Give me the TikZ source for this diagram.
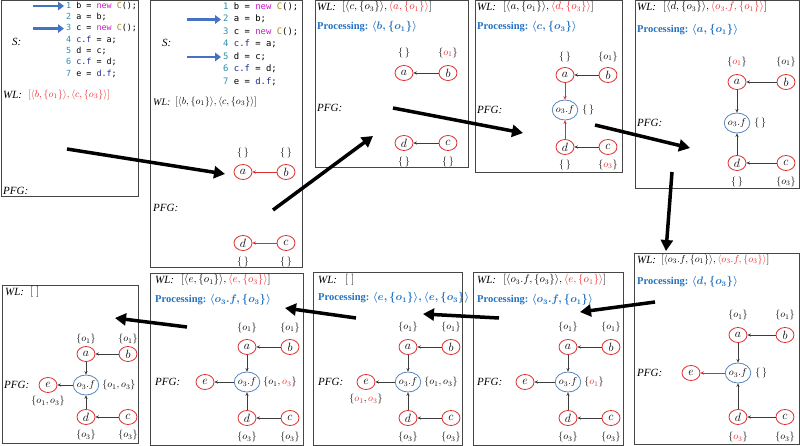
\documentclass[tikz,border=0pt]{standalone}
\usepackage{fontspec}
\setmainfont{Liberation Serif}
\newfontfamily\codefont{DejaVu Sans Mono}
\usetikzlibrary{shapes.geometric,arrows.meta,calc}
\definecolor{vred}{RGB}{220,45,45}
\definecolor{fblue}{RGB}{90,135,190}
\definecolor{pblue}{RGB}{35,115,195}
\definecolor{wred}{RGB}{235,45,45}
\definecolor{cnum}{RGB}{40,145,175}
\definecolor{ckw}{RGB}{200,30,200}
\definecolor{ccls}{RGB}{165,135,20}
\definecolor{cfld}{RGB}{30,40,150}
\definecolor{arrblue}{RGB}{68,114,196}
\definecolor{edgegray}{RGB}{60,60,60}
\definecolor{boxgray}{RGB}{70,70,70}
\newcommand{\rd}[1]{\textcolor{wred}{#1}}
\newcommand{\es}{\{\,\}}
\newcommand{\cnum}[1]{\textcolor{cnum}{#1}}
\newcommand{\cnew}{\textcolor{ckw}{new}}
\newcommand{\ccls}{\textcolor{ccls}{C}}
\newcommand{\cfl}[1]{\textcolor{cfld}{#1}}
\tikzset{
 panel/.style={draw=boxgray, line width=0.8pt},
 var/.style={ellipse, draw=vred, line width=0.8pt, minimum width=18pt, minimum height=15pt, inner sep=0pt, font=\fontsize{12}{12}\selectfont},
 fld/.style={ellipse, draw=fblue, line width=0.8pt, minimum width=25pt, minimum height=20pt, inner sep=0pt, font=\fontsize{10}{10}\selectfont},
 pe/.style={-{Stealth[length=3.5pt,width=3.2pt]}, draw=edgegray, line width=0.6pt},
 rpe/.style={pe, draw=vred},
 setl/.style={inner sep=0pt, font=\fontsize{10}{10}\selectfont},
 oset/.style={setl, anchor=west},
 lbl/.style={anchor=west, inner sep=0pt, font=\fontsize{11}{11}\selectfont\itshape},
 wll/.style={anchor=west, inner sep=0pt, font=\fontsize{10.5}{10.5}\selectfont},
 proc/.style={anchor=west, inner sep=0pt, text=pblue, font=\fontsize{10.5}{10.5}\selectfont\bfseries},
 bigarrow/.style={line width=3.5pt, -{Triangle[length=11pt,width=12pt]}},
 codearrow/.style={draw=arrblue, line width=2.8pt, -{Triangle[length=6pt,width=8.5pt]}},
 codeA/.style={anchor=west, inner sep=0pt, text height=6.5pt, text depth=2pt, font=\codefont\fontsize{8.4}{9}\selectfont},
 codeB/.style={anchor=west, inner sep=0pt, text height=6.5pt, text depth=2pt, font=\codefont\fontsize{8.9}{9}\selectfont},
}
\begin{document}
\begin{tikzpicture}[x=1pt,y=-1pt]
\useasboundingbox (0,0) rectangle (800,446);
\fill[white] (0,0) rectangle (800,446);
% ---------- panel boxes
\draw[panel] (1,0.5) rectangle (138,196);
\draw[panel] (150,0.5) rectangle (302,267);
\draw[panel] (315,0.5) rectangle (468,167);
\draw[panel] (475,0.5) rectangle (622,172);
\draw[panel] (635,0.5) rectangle (799,188);
\draw[panel] (634,253) rectangle (799,444);
\draw[panel] (473,272) rectangle (623,445);
\draw[panel] (313,272) rectangle (462,445);
\draw[panel] (150,273) rectangle (303,445);
\draw[panel] (2,285) rectangle (138,443);

% ---------- panel 1
\node[codeA] (l11) at (66,6) {\cnum{1} b = \cnew{} \ccls();};
\node[codeA] (l12) at (66,17.3) {\cnum{2} a = b;};
\node[codeA] (l13) at (66,28.6) {\cnum{3} c = \cnew{} \ccls();};
\node[codeA] (l14) at (66,39.9) {\cnum{4} \cfl{c.f} = a;};
\node[codeA] (l15) at (66,51.2) {\cnum{5} d = c;};
\node[codeA] (l16) at (66,62.5) {\cnum{6} \cfl{c.f} = d;};
\node[codeA] (l17) at (66,73.8) {\cnum{7} e = \cfl{d.f};};
\coordinate (ca11) at (33,6);
\coordinate (ca13) at (33,28.6);
\draw[codearrow] (ca11) -- ([xshift=-2pt]l11.west);
\draw[codearrow] (ca13) -- ([xshift=-2pt]l13.west);
\node[lbl] (s1) at (12,42) {S:};
\node[lbl] (wl1) at (3,95) {WL:};
\node[wll,text=wred,font=\fontsize{10}{10}\selectfont] (wlv1) at (28,95) {$[\langle b,\{o_1\}\rangle,\langle c,\{o_3\}\rangle]$};
\node[lbl] (pfg1) at (3,191) {PFG:};

% ---------- panel 2
\node[codeB] (l21) at (223,7) {\cnum{1} b = \cnew{} \ccls();};
\node[codeB] (l22) at (223,19.5) {\cnum{2} a = b;};
\node[codeB] (l23) at (223,32) {\cnum{3} c = \cnew{} \ccls();};
\node[codeB] (l24) at (223,44.5) {\cnum{4} \cfl{c.f} = a;};
\node[codeB] (l25) at (223,57) {\cnum{5} d = c;};
\node[codeB] (l26) at (223,69.5) {\cnum{6} \cfl{c.f} = d;};
\node[codeB] (l27) at (223,82) {\cnum{7} e = \cfl{d.f};};
\coordinate (ca22) at (187,19.5);
\coordinate (ca25) at (187,57);
\draw[codearrow] (ca22) -- ([xshift=-2pt]l22.west);
\draw[codearrow] (ca25) -- ([xshift=-2pt]l25.west);
\node[lbl] (s2) at (162,43) {S:};
\node[lbl,font=\fontsize{10}{10}\selectfont\itshape] (wl2) at (153,102) {WL:};
\node[wll,font=\fontsize{10}{10}\selectfont] (wlv2) at (175,102) {$[\langle b,\{o_1\}\rangle,\langle c,\{o_3\}\rangle]$};
\node[lbl] (pfg2) at (153,208) {PFG:};
\node[var] (a2) at (243,172) {$a$};
\node[var] (b2) at (286,172) {$b$};
\node[var] (d2) at (243,243) {$d$};
\node[var] (c2) at (286,243) {$c$};
\node[setl] (sa2) at (243,153) {$\es$};
\node[setl] (sb2) at (286,153) {$\es$};
\node[setl] (sd2) at (243,262) {$\es$};
\node[setl] (sc2) at (286,262) {$\es$};
\draw[rpe] (b2) -- (a2);
\draw[rpe] (c2) -- (d2);

% ---------- panel 3
\node[lbl] (wl3) at (317,7) {WL:};
\node[wll] (wlv3) at (342,7) {$[\langle c,\{o_3\}\rangle,\rd{\langle a,\{o_1\}\rangle}]$};
\node[proc] (pr3) at (317,27) {Processing: {\boldmath$\langle b,\{o_1\}\rangle$}};
\node[lbl] (pfg3) at (317,108) {PFG:};
\node[var] (a3) at (404,73) {$a$};
\node[var] (b3) at (448,73) {$b$};
\node[var] (d3) at (404,143) {$d$};
\node[var] (c3) at (448,143) {$c$};
\node[setl] (sa3) at (404,53) {$\es$};
\node[setl] (sb3) at (448,53) {$\{\rd{o_1}\}$};
\node[setl] (sd3) at (404,162) {$\es$};
\node[setl] (sc3) at (448,162) {$\es$};
\draw[pe] (b3) -- (a3);
\draw[pe] (c3) -- (d3);

% ---------- panel 4
\node[lbl] (wl4) at (477,7) {WL:};
\node[wll] (wlv4) at (503,7) {$[\langle a,\{o_1\}\rangle,\rd{\langle d,\{o_3\}\rangle}]$};
\node[proc] (pr4) at (477,27) {Processing: {\boldmath$\langle c,\{o_3\}\rangle$}};
\node[lbl] (pfg4) at (477,110) {PFG:};
\node[var] (a4) at (565,75) {$a$};
\node[var] (b4) at (608,75) {$b$};
\node[fld] (o4) at (565,110) {$o_3.f$};
\node[var] (d4) at (565,147) {$d$};
\node[var] (c4) at (608,147) {$c$};
\node[setl] (sa4) at (565,57) {$\es$};
\node[setl] (sb4) at (608,57) {$\{o_1\}$};
\node[oset] (so4) at ([xshift=4pt]o4.east) {$\es$};
\node[setl] (sd4) at (565,165) {$\es$};
\node[setl] (sc4) at (608,165) {$\{\rd{o_3}\}$};
\draw[pe] (b4) -- (a4);
\draw[pe] (c4) -- (d4);
\draw[rpe] (a4) -- (o4);
\draw[rpe] (d4) -- (o4);

% ---------- panel 5
\node[lbl] (wl5) at (637,7) {WL:};
\node[wll] (wlv5) at (663,7) {$[\langle d,\{o_3\}\rangle,\rd{\langle o_3.f,\{o_1\}\rangle}]$};
\node[proc] (pr5) at (637,30) {Processing: {\boldmath$\langle a,\{o_1\}\rangle$}};
\node[lbl] (pfg5) at (637,123) {PFG:};
\node[var] (a5) at (737,82) {$a$};
\node[var] (b5) at (786,82) {$b$};
\node[fld] (o5) at (737,123) {$o_3.f$};
\node[var] (d5) at (737,163) {$d$};
\node[var] (c5) at (786,163) {$c$};
\node[setl] (sa5) at (737,62) {$\{\rd{o_1}\}$};
\node[setl] (sb5) at (786,62) {$\{o_1\}$};
\node[oset] (so5) at ([xshift=4pt]o5.east) {$\es$};
\node[setl] (sd5) at (737,182) {$\es$};
\node[setl] (sc5) at (786,182) {$\{o_3\}$};
\draw[pe] (b5) -- (a5);
\draw[pe] (c5) -- (d5);
\draw[pe] (a5) -- (o5);
\draw[pe] (d5) -- (o5);

% ---------- panel 6
\node[lbl] (wl6) at (637,260) {WL:};
\node[wll,font=\fontsize{9.6}{9.6}\selectfont] (wlv6) at (661,260) {$[\langle o_3.f,\{o_1\}\rangle,\rd{\langle o_3.f,\{o_3\}\rangle}]$};
\node[proc] (pr6) at (637,282) {Processing: {\boldmath$\langle d,\{o_3\}\rangle$}};
\node[lbl] (pfg6) at (637,373) {PFG:};
\node[var] (a6) at (738,335) {$a$};
\node[var] (b6) at (785,335) {$b$};
\node[fld] (o6) at (738,373) {$o_3.f$};
\node[var] (e6) at (691,373) {$e$};
\node[var] (d6) at (738,417) {$d$};
\node[var] (c6) at (785,417) {$c$};
\node[setl] (sa6) at (738,315) {$\{o_1\}$};
\node[setl] (sb6) at (785,315) {$\{o_1\}$};
\node[oset] (so6) at ([xshift=4pt]o6.east) {$\es$};
\node[setl] (sd6) at (738,437) {$\{\rd{o_3}\}$};
\node[setl] (sc6) at (785,437) {$\{o_3\}$};
\draw[pe] (b6) -- (a6);
\draw[pe] (c6) -- (d6);
\draw[pe] (a6) -- (o6);
\draw[pe] (d6) -- (o6);
\draw[rpe] (o6) -- (e6);

% ---------- panel 7
\node[lbl] (wl7) at (477,280) {WL:};
\node[wll] (wlv7) at (503,280) {$[\langle o_3.f,\{o_3\}\rangle,\rd{\langle e,\{o_1\}\rangle}]$};
\node[proc] (pr7) at (477,300) {Processing: {\boldmath$\langle o_3.f,\{o_1\}\rangle$}};
\node[lbl] (pfg7) at (477,382) {PFG:};
\node[var] (a7) at (568,347) {$a$};
\node[var] (b7) at (611,347) {$b$};
\node[fld] (o7) at (568,382) {$o_3.f$};
\node[var] (e7) at (525,382) {$e$};
\node[var] (d7) at (568,418) {$d$};
\node[var] (c7) at (611,418) {$c$};
\node[setl] (sa7) at (568,327) {$\{o_1\}$};
\node[setl] (sb7) at (611,327) {$\{o_1\}$};
\node[oset] (so7) at ([xshift=3pt]o7.east) {$\{\rd{o_1}\}$};
\node[setl] (sd7) at (568,437) {$\{o_3\}$};
\node[setl] (sc7) at (611,437) {$\{o_3\}$};
\draw[pe] (b7) -- (a7);
\draw[pe] (c7) -- (d7);
\draw[pe] (a7) -- (o7);
\draw[pe] (d7) -- (o7);
\draw[pe] (o7) -- (e7);

% ---------- panel 8
\node[lbl] (wl8) at (318,280) {WL:};
\node[wll] (wlv8) at (345,280) {$[\;]$};
\node[proc] (pr8) at (318,298) {Processing: {\boldmath$\langle e,\{o_1\}\rangle,\langle e,\{o_3\}\rangle$}};
\node[lbl] (pfg8) at (318,382) {PFG:};
\node[var] (a8) at (408,347) {$a$};
\node[var] (b8) at (451,347) {$b$};
\node[fld] (o8) at (408,382) {$o_3.f$};
\node[var] (e8) at (366,382) {$e$};
\node[var] (d8) at (408,418) {$d$};
\node[var] (c8) at (451,418) {$c$};
\node[setl] (sa8) at (408,327) {$\{o_1\}$};
\node[setl] (sb8) at (451,327) {$\{o_1\}$};
\node[oset] (so8) at ([xshift=3pt]o8.east) {$\{o_1,o_3\}$};
\node[setl] (se8) at (366,399) {$\{\rd{o_1},\rd{o_3}\}$};
\node[setl] (sd8) at (408,437) {$\{o_3\}$};
\node[setl] (sc8) at (451,437) {$\{o_3\}$};
\draw[pe] (b8) -- (a8);
\draw[pe] (c8) -- (d8);
\draw[pe] (a8) -- (o8);
\draw[pe] (d8) -- (o8);
\draw[pe] (o8) -- (e8);

% ---------- panel 9
\node[lbl] (wl9) at (155,280) {WL:};
\node[wll] (wlv9) at (181,280) {$[\langle e,\{o_1\}\rangle,\rd{\langle e,\{o_3\}\rangle}]$};
\node[proc] (pr9) at (155,300) {Processing: {\boldmath$\langle o_3.f,\{o_3\}\rangle$}};
\node[lbl] (pfg9) at (155,382) {PFG:};
\node[var] (a9) at (247,347) {$a$};
\node[var] (b9) at (290,347) {$b$};
\node[fld] (o9) at (247,382) {$o_3.f$};
\node[var] (e9) at (205,382) {$e$};
\node[var] (d9) at (247,418) {$d$};
\node[var] (c9) at (290,418) {$c$};
\node[setl] (sa9) at (247,328) {$\{o_1\}$};
\node[setl] (sb9) at (290,328) {$\{o_1\}$};
\node[oset] (so9) at ([xshift=3pt]o9.east) {$\{o_1,\rd{o_3}\}$};
\node[setl] (sd9) at (247,437) {$\{o_3\}$};
\node[setl] (sc9) at (290,437) {$\{o_3\}$};
\draw[pe] (b9) -- (a9);
\draw[pe] (c9) -- (d9);
\draw[pe] (a9) -- (o9);
\draw[pe] (d9) -- (o9);
\draw[pe] (o9) -- (e9);

% ---------- panel 10
\node[lbl] (wl10) at (5,292) {WL:};
\node[wll] (wlv10) at (30,292) {$[\;]$};
\node[lbl] (pfg10) at (4,385) {PFG:};
\node[var] (a10) at (86,354) {$a$};
\node[var] (b10) at (128,354) {$b$};
\node[fld] (o10) at (86,385) {$o_3.f$};
\node[var] (e10) at (48,385) {$e$};
\node[var] (d10) at (86,417) {$d$};
\node[var] (c10) at (128,417) {$c$};
\node[setl] (sa10) at (86,339) {$\{o_1\}$};
\node[setl] (sb10) at (128,339) {$\{o_1\}$};
\node[oset] (so10) at ([xshift=3pt]o10.east) {$\{o_1,o_3\}$};
\node[setl] (se10) at (48,401) {$\{o_1,o_3\}$};
\node[setl] (sd10) at (86,435) {$\{o_3\}$};
\node[setl] (sc10) at (128,435) {$\{o_3\}$};
\draw[pe] (b10) -- (a10);
\draw[pe] (c10) -- (d10);
\draw[pe] (a10) -- (o10);
\draw[pe] (d10) -- (o10);
\draw[pe] (o10) -- (e10);

% ---------- big transition arrows
\coordinate (s1) at (67,149);   \coordinate (t1) at (225,174);
\coordinate (s2) at (273,210);  \coordinate (t2) at (373,136);
\coordinate (s3) at (393,108);  \coordinate (t3) at (523,133);
\coordinate (s4) at (595,125);  \coordinate (t4) at (690,148);
\coordinate (s5) at (672,172);  \coordinate (t5) at (666,251);
\coordinate (s6) at (655,302);  \coordinate (t6) at (580,312);
\coordinate (s7) at (499,318);  \coordinate (t7) at (423,314);
\coordinate (s8) at (356,318);  \coordinate (t8) at (285,308);
\coordinate (s9) at (187,327);  \coordinate (t9) at (115,318);
\foreach \i in {1,...,9} \draw[bigarrow] (s\i) -- (t\i);
\end{tikzpicture}
\end{document}
